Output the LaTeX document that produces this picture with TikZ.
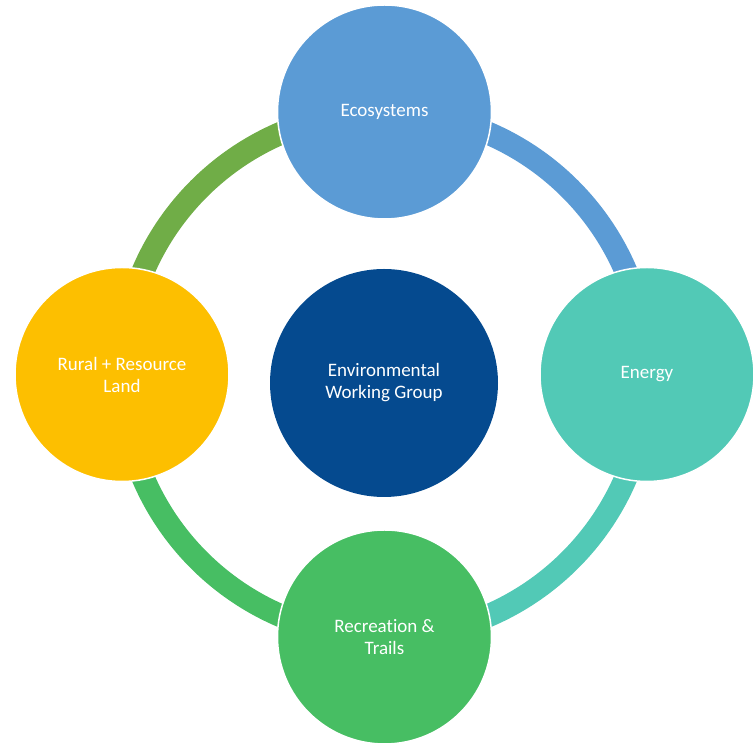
\documentclass[tikz,border=0pt]{standalone}
\usepackage{fontspec}
\setmainfont{Carlito}[Ligatures=NoCommon]
\usepackage{xcolor}
\usepackage{tikz}

\definecolor{ecoblue}{HTML}{5B9BD5}
\definecolor{energyteal}{HTML}{52C9B6}
\definecolor{recgreen}{HTML}{47BE63}
\definecolor{ruralgold}{HTML}{FDBF00}
\definecolor{ewgnavy}{HTML}{054A8F}
\definecolor{ringgreen}{HTML}{70AD47}

\begin{document}
\begin{tikzpicture}[x=1pt, y=1pt,
    satnode/.style={circle, draw=white, line width=1.5pt, minimum size=214pt,
        inner sep=0pt, text=white, align=center, font=\fontsize{19}{22}\selectfont},
    hubnode/.style={satnode, minimum size=228pt, draw=none},
    ringseg/.style={line width=23pt}]

    \useasboundingbox (0,0) rectangle (756,746);

    % ==========================================
    % Ring
    % ==========================================
    \def\R{262.5}
    \coordinate (hub) at (384.5,371.5);
    \coordinate (ecopos)    at ([shift={(90:\R)}]hub);
    \coordinate (energypos) at ([shift={(0:\R)}]hub);
    \coordinate (recpos)    at ([shift={(-90:\R)}]hub);
    \coordinate (ruralpos)  at ([shift={(180:\R)}]hub);

    % arcs first, circles cover their ends
    \draw[ringseg, ringgreen]  (ecopos)    arc (90:180:\R);
    \draw[ringseg, ecoblue]    (energypos) arc (0:90:\R);
    \draw[ringseg, energyteal] (recpos)    arc (-90:0:\R);
    \draw[ringseg, recgreen]   (ruralpos)  arc (180:270:\R);

    % ==========================================
    % Circles
    % ==========================================
    \node[satnode, fill=ecoblue]    (eco)    at (ecopos)    {Ecosystems};
    \node[satnode, fill=energyteal] (energy) at (energypos) {Energy};
    \node[satnode, fill=recgreen]   (rec)    at (recpos)    {Recreation \&\\Trails};
    \node[satnode, fill=ruralgold]  (rural)  at (ruralpos)  {Rural + Resource\\Land};

    \node[hubnode, fill=ewgnavy] (ewg) at (384,363) {Environmental\\Working Group};

\end{tikzpicture}
\end{document}
